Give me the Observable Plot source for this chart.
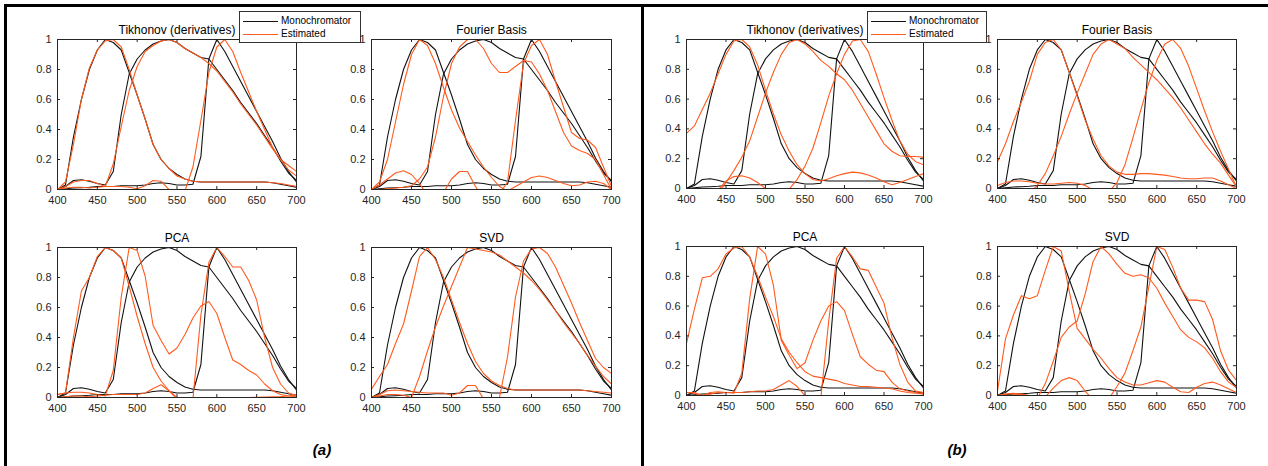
<!DOCTYPE html>
<html>
<head>
<meta charset="utf-8">
<script src="https://cdn.jsdelivr.net/npm/d3@7"></script>
<script src="https://cdn.jsdelivr.net/npm/@observablehq/plot@0.6"></script>
<style>
  html, body { margin: 0; padding: 0; background: #fff; }
  #root { position: relative; width: 1268px; height: 466px; overflow: hidden; background: #fff;
          font-family: "Liberation Sans", Arial, Helvetica, sans-serif; }
  .panel { position: absolute; }
  .panel svg { overflow: visible; }
  .rule { position: absolute; background: #000; }
  .legend { position: absolute; border: 1px solid #333; background: #fff; box-sizing: border-box;
            font-size: 10px; color: #000; }
  .legend .sw { position: absolute; height: 0; border-top: 1.3px solid #000; }
  .legend .lab { position: absolute; line-height: 12px; white-space: nowrap; }
  .glabel { position: absolute; font-weight: bold; font-style: italic; font-size: 15px; color: #000;
            transform: translateX(-50%); white-space: nowrap; }
</style>
</head>
<body>
<div id="root"></div>
<script>
// ---------------- data ----------------
const wavelengths = d3.range(400, 701, 10);
const xTicks = [400, 450, 500, 550, 600, 650, 700];
const yTicks = [0, 0.2, 0.4, 0.6, 0.8, 1];
const panelTitles = ["Tikhonov (derivatives)", "Fourier Basis", "PCA", "SVD"];
const groupLabels = ["(a)", "(b)"];
const legendLabels = ["Monochromator", "Estimated"];

// Monochromator (reference) curves
const monoBlue  = [0, 0.03, 0.35, 0.6, 0.8, 0.93, 1.0, 0.98, 0.93, 0.78, 0.63, 0.47, 0.3, 0.2, 0.14, 0.1, 0.07, 0.055, 0.05, 0.05, 0.05, 0.05, 0.05, 0.05, 0.05, 0.05, 0.05, 0.045, 0.035, 0.025, 0.015];
const monoGreen = [0, 0.02, 0.06, 0.065, 0.055, 0.04, 0.03, 0.12, 0.5, 0.77, 0.87, 0.93, 0.97, 0.99, 1.0, 0.98, 0.94, 0.91, 0.88, 0.87, 0.8, 0.73, 0.66, 0.58, 0.51, 0.44, 0.36, 0.28, 0.19, 0.11, 0.06];
const monoRed   = [0, 0.005, 0.01, 0.012, 0.015, 0.02, 0.02, 0.02, 0.025, 0.025, 0.025, 0.03, 0.04, 0.045, 0.04, 0.03, 0.03, 0.035, 0.22, 0.87, 1.0, 0.92, 0.82, 0.72, 0.62, 0.52, 0.42, 0.32, 0.21, 0.12, 0.05];

// (a) estimated curves
const aTikB = [0, 0.05, 0.3, 0.6, 0.81, 0.93, 0.99, 1.0, 0.95, 0.8, 0.63, 0.47, 0.3, 0.2, 0.14, 0.09, 0.07, 0.055, 0.05, 0.05, 0.05, 0.05, 0.05, 0.05, 0.05, 0.05, 0.05, 0.045, 0.04, 0.03, 0.02];
const aTikG = [0, 0.02, 0.05, 0.06, 0.06, 0.04, 0.02, 0.17, 0.42, 0.66, 0.82, 0.92, 0.96, 0.99, 1.0, 0.98, 0.94, 0.91, 0.88, 0.84, 0.79, 0.72, 0.65, 0.57, 0.5, 0.43, 0.35, 0.27, 0.2, 0.13, 0.09];
const aTikR = [0, 0.01, 0.015, 0.015, 0.01, 0.015, 0.02, 0.02, 0.02, 0.015, 0.005, 0.025, 0.06, 0.055, 0.0, -0.04, -0.01, 0.15, 0.46, 0.78, 0.95, 1.0, 0.92, 0.78, 0.65, 0.52, 0.4, 0.28, 0.2, 0.16, 0.12];

const aFouB = [0, 0.05, 0.2, 0.45, 0.7, 0.9, 1.0, 0.96, 0.84, 0.68, 0.53, 0.41, 0.32, 0.23, 0.15, 0.08, 0.02, -0.01, 0.02, 0.05, 0.08, 0.09, 0.08, 0.06, 0.04, 0.025, 0.03, 0.05, 0.055, 0.04, 0.0];
const aFouG = [0, 0.0, 0.005, 0.01, 0.015, 0.025, 0.07, 0.15, 0.35, 0.62, 0.84, 0.95, 1.0, 1.0, 0.94, 0.84, 0.78, 0.78, 0.82, 0.86, 0.85, 0.77, 0.66, 0.52, 0.38, 0.29, 0.26, 0.24, 0.2, 0.1, 0.0];
const aFouR = [0, 0.03, 0.07, 0.11, 0.125, 0.1, 0.04, -0.04, -0.08, -0.02, 0.07, 0.12, 0.12, 0.02, -0.06, -0.08, -0.03, 0.05, 0.46, 0.84, 0.96, 1.0, 0.9, 0.72, 0.55, 0.38, 0.34, 0.33, 0.28, 0.15, 0.02];

const aPcaB = [0.02, 0.03, 0.4, 0.71, 0.8, 0.94, 1.0, 0.98, 0.93, 0.74, 0.54, 0.36, 0.2, 0.11, 0.045, -0.01, -0.03, -0.04, -0.04, -0.03, -0.02, -0.02, -0.01, -0.01, 0.0, 0.002, 0.003, 0.004, 0.006, 0.01, 0.02];
const aPcaG = [0.02, 0.03, 0.035, 0.035, 0.03, 0.02, 0.01, 0.18, 0.67, 1.0, 0.98, 0.81, 0.48, 0.38, 0.29, 0.33, 0.42, 0.53, 0.61, 0.64, 0.56, 0.4, 0.25, 0.22, 0.18, 0.15, 0.09, 0.045, 0.02, 0.01, 0.005];
const aPcaR = [0.0, 0.005, 0.01, 0.01, 0.005, 0.01, 0.015, 0.02, 0.02, 0.02, 0.02, 0.03, 0.06, 0.085, 0.045, 0.0, -0.03, -0.01, 0.55, 0.9, 1.0, 0.94, 0.87, 0.87, 0.78, 0.65, 0.4, 0.2, 0.09, 0.03, 0.01];

const aSvdB = [0.056, 0.14, 0.22, 0.36, 0.49, 0.71, 0.94, 1.0, 0.92, 0.8, 0.65, 0.5, 0.36, 0.24, 0.16, 0.11, 0.08, 0.06, 0.05, 0.05, 0.05, 0.05, 0.05, 0.05, 0.05, 0.05, 0.05, 0.045, 0.04, 0.035, 0.03];
const aSvdG = [0.0, 0.01, 0.02, 0.02, 0.015, 0.0, 0.14, 0.31, 0.47, 0.61, 0.74, 0.87, 1.0, 0.99, 0.98, 0.97, 0.95, 0.91, 0.87, 0.83, 0.78, 0.72, 0.65, 0.58, 0.5, 0.43, 0.36, 0.28, 0.21, 0.14, 0.09];
const aSvdR = [0.0, 0.02, 0.045, 0.05, 0.045, 0.04, 0.035, 0.03, 0.03, 0.03, 0.015, 0.03, 0.08, 0.08, -0.01, -0.05, 0.0, 0.27, 0.67, 0.91, 0.99, 1.0, 0.96, 0.87, 0.75, 0.63, 0.5, 0.38, 0.26, 0.2, 0.16];

// (b) estimated curves
const bTikB = [0.37, 0.42, 0.53, 0.64, 0.77, 0.9, 0.99, 1.0, 0.95, 0.83, 0.66, 0.5, 0.36, 0.25, 0.16, 0.1, 0.06, 0.05, 0.065, 0.085, 0.1, 0.11, 0.105, 0.09, 0.07, 0.045, 0.025, 0.04, 0.06, 0.08, 0.1];
const bTikG = [-0.2, -0.16, -0.12, -0.08, -0.03, 0.04, 0.12, 0.21, 0.32, 0.48, 0.64, 0.78, 0.9, 0.98, 1.0, 0.97, 0.92, 0.86, 0.82, 0.77, 0.73, 0.66, 0.57, 0.48, 0.39, 0.3, 0.25, 0.22, 0.215, 0.215, 0.21];
const bTikR = [-0.3, -0.25, -0.2, -0.13, -0.01, 0.05, 0.08, 0.085, 0.07, 0.04, 0.0, -0.03, -0.03, -0.005, 0.06, 0.15, 0.27, 0.44, 0.62, 0.77, 0.9, 0.99, 1.0, 0.92, 0.77, 0.61, 0.46, 0.32, 0.23, 0.18, 0.16];

const bFouB = [0.18, 0.3, 0.45, 0.58, 0.72, 0.9, 0.98, 1.0, 0.93, 0.78, 0.62, 0.46, 0.33, 0.22, 0.15, 0.11, 0.095, 0.095, 0.1, 0.1, 0.095, 0.09, 0.08, 0.07, 0.065, 0.065, 0.07, 0.07, 0.05, 0.025, 0.0];
const bFouG = [-0.12, -0.1, -0.08, -0.06, -0.03, 0.02, 0.1, 0.22, 0.35, 0.5, 0.64, 0.77, 0.9, 0.97, 1.0, 0.97, 0.94, 0.88, 0.83, 0.78, 0.73, 0.67, 0.61, 0.54, 0.46, 0.38, 0.3, 0.23, 0.17, 0.09, 0.01];
const bFouR = [0.02, 0.04, 0.05, 0.05, 0.045, 0.035, 0.03, 0.03, 0.035, 0.04, 0.035, 0.02, -0.01, -0.05, -0.02, 0.04, 0.16, 0.34, 0.53, 0.71, 0.86, 0.97, 1.0, 0.94, 0.82, 0.67, 0.52, 0.38, 0.25, 0.13, 0.01];

const bPcaB = [0.35, 0.58, 0.79, 0.8, 0.85, 0.95, 0.99, 1.0, 0.93, 0.8, 0.66, 0.53, 0.38, 0.29, 0.22, 0.16, 0.13, 0.12, 0.11, 0.1, 0.08, 0.07, 0.06, 0.06, 0.055, 0.05, 0.045, 0.03, 0.02, 0.015, 0.01];
const bPcaG = [0.02, 0.02, 0.0, 0.02, 0.025, 0.02, 0.015, 0.15, 0.65, 1.0, 0.95, 0.74, 0.37, 0.27, 0.18, 0.22, 0.37, 0.5, 0.6, 0.63, 0.57, 0.41, 0.26, 0.21, 0.17, 0.16, 0.09, 0.045, 0.03, 0.02, 0.01];
const bPcaR = [0.02, 0.015, -0.005, 0.01, 0.02, 0.02, 0.02, 0.02, 0.025, 0.03, 0.03, 0.04, 0.07, 0.1, 0.06, 0.0, -0.05, -0.02, 0.5, 0.92, 1.0, 0.93, 0.85, 0.84, 0.73, 0.62, 0.39, 0.21, 0.09, 0.03, 0.02];

const bSvdB = [0.03, 0.38, 0.54, 0.67, 0.65, 0.67, 0.84, 1.0, 0.97, 0.7, 0.45, 0.38, 0.31, 0.25, 0.18, 0.12, 0.09, 0.07, 0.07, 0.085, 0.1, 0.09, 0.055, 0.025, 0.02, 0.055, 0.08, 0.09, 0.07, 0.045, 0.02];
const bSvdG = [0.0, 0.01, 0.015, 0.01, 0.0, -0.02, 0.08, 0.23, 0.39, 0.46, 0.5, 0.68, 0.9, 1.0, 0.95, 0.88, 0.82, 0.8, 0.81, 0.79, 0.72, 0.62, 0.53, 0.44, 0.39, 0.36, 0.32, 0.25, 0.16, 0.09, 0.055];
const bSvdR = [0.0, 0.01, 0.01, 0.005, -0.01, -0.03, -0.01, 0.05, 0.1, 0.12, 0.1, 0.03, -0.03, -0.05, -0.02, 0.06, 0.15, 0.3, 0.46, 0.73, 1.0, 0.98, 0.86, 0.72, 0.64, 0.64, 0.63, 0.51, 0.3, 0.17, 0.1];

// ---------------- drawing ----------------
const ORANGE = "#ff5a1e";
const INK = "#262626";
const root = document.getElementById("root");

function toRows(arrays) {
  return arrays.flatMap((arr, k) => arr.map((v, i) => ({w: wavelengths[i], v, k})));
}

function drawPanel(title, est, fx, fy, fw, fh) {
  const mL = 40, mR = 8, mT = 28, mB = 24;
  const svg = Plot.plot({
    width: mL + fw + mR,
    height: mT + fh + mB,
    marginLeft: mL, marginRight: mR, marginTop: mT, marginBottom: mB,
    x: {domain: [400, 700], label: null},
    y: {domain: [0, 1], label: null},
    style: {fontFamily: "'Liberation Sans', Arial, Helvetica, sans-serif", fontSize: "11px",
            color: INK, background: "transparent", overflow: "visible"},
    marks: [
      Plot.line(toRows([monoBlue, monoGreen, monoRed]), {x: "w", y: "v", z: "k", stroke: "#111", strokeWidth: 1.1, clip: true}),
      Plot.line(toRows(est), {x: "w", y: "v", z: "k", stroke: ORANGE, strokeWidth: 1.1, clip: true}),
      Plot.frame({stroke: INK, strokeWidth: 1}),
      Plot.tickX(xTicks, {x: d => d, insetTop: fh - 3, stroke: INK}),
      Plot.tickX(xTicks, {x: d => d, insetBottom: fh - 3, stroke: INK}),
      Plot.tickY(yTicks, {y: d => d, insetRight: fw - 3, stroke: INK}),
      Plot.tickY(yTicks, {y: d => d, insetLeft: fw - 3, stroke: INK}),
      Plot.axisX({ticks: xTicks, tickSize: 0, tickPadding: 7, tickFormat: d => String(d), label: null, color: INK}),
      Plot.axisY({ticks: yTicks, tickSize: 0, tickPadding: 6, tickFormat: d => String(d), label: null, color: INK}),
      Plot.text([title], {text: d => d, frameAnchor: "top", lineAnchor: "middle", dy: -9.5, fontSize: 12, fill: "#000"})
    ]
  });
  const div = document.createElement("div");
  div.className = "panel";
  div.style.left = (fx - mL) + "px";
  div.style.top = (fy - mT) + "px";
  div.appendChild(svg);
  root.appendChild(div);
}

// group (a)
drawPanel(panelTitles[0], [aTikB, aTikG, aTikR], 57, 39, 239, 150);
drawPanel(panelTitles[1], [aFouB, aFouG, aFouR], 371, 39, 240, 150);
drawPanel(panelTitles[2], [aPcaB, aPcaG, aPcaR], 57, 247, 239, 150);
drawPanel(panelTitles[3], [aSvdB, aSvdG, aSvdR], 371, 247, 240, 150);
// group (b)
drawPanel(panelTitles[0], [bTikB, bTikG, bTikR], 686, 39, 237, 149);
drawPanel(panelTitles[1], [bFouB, bFouG, bFouR], 997, 39, 239, 149);
drawPanel(panelTitles[2], [bPcaB, bPcaG, bPcaR], 686, 246, 237, 149);
drawPanel(panelTitles[3], [bSvdB, bSvdG, bSvdR], 997, 246, 239, 149);

// legends
function legend(x, y, w, h) {
  const d = document.createElement("div");
  d.className = "legend";
  Object.assign(d.style, {left: x + "px", top: y + "px", width: w + "px", height: h + "px"});
  const rows = [[legendLabels[0], "#111", 9], [legendLabels[1], ORANGE, 22]];
  for (const [lab, col, yy] of rows) {
    const s = document.createElement("span");
    s.className = "sw";
    Object.assign(s.style, {left: "3px", top: yy + "px", width: "35px", borderTopColor: col});
    d.appendChild(s);
    const t = document.createElement("span");
    t.className = "lab";
    Object.assign(t.style, {left: "41px", top: (yy - 6) + "px"});
    t.textContent = lab;
    d.appendChild(t);
  }
  root.appendChild(d);
}
legend(239, 11, 122, 32);
legend(867, 11, 120, 32);

// group labels
function glabel(text, cx, top) {
  const d = document.createElement("div");
  d.className = "glabel";
  Object.assign(d.style, {left: cx + "px", top: top + "px"});
  d.textContent = text;
  root.appendChild(d);
}
glabel(groupLabels[0], 322, 441);
glabel(groupLabels[1], 957, 441);

// outer rules
function rule(x, y, w, h) {
  const d = document.createElement("div");
  d.className = "rule";
  Object.assign(d.style, {left: x + "px", top: y + "px", width: w + "px", height: h + "px"});
  root.appendChild(d);
}
rule(4, 4, 1264, 3);
rule(4, 4, 3, 462);
rule(641, 4, 3, 462);
</script>
</body>
</html>
